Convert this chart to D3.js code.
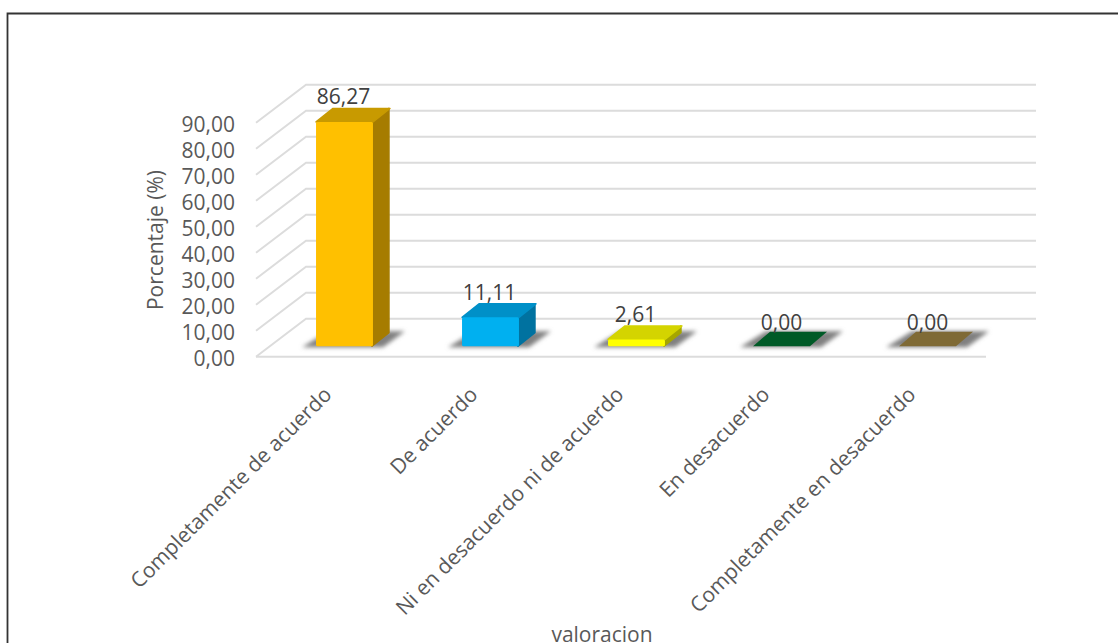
<!DOCTYPE html>
<html><head><meta charset="utf-8">
<script src="https://cdn.jsdelivr.net/npm/d3@7"></script>
<style>html,body{margin:0;padding:0;background:#fff}svg{display:block}text{font-family:"Open Sans",sans-serif}</style>
</head><body><svg id="c" width="1118" height="643"></svg>
<script>
const categories=["Completamente de acuerdo","De acuerdo","Ni en desacuerdo ni de acuerdo","En desacuerdo","Completamente en desacuerdo"];
const values=[86.27,11.11,2.61,0,0];
const valueLabels=["86,27","11,11","2,61","0,00","0,00"];
const tickValues=[0,10,20,30,40,50,60,70,80,90];
const front=["#ffc000","#00b0f0","#ffff00","#005a27","#7f6a35"];
const topc=["#c89a00","#0090c8","#d4d400","#005a27","#7f6a35"];
const side=["#a67c00","#0072a0","#a6a600","#005a27","#7f6a35"];

const svg=d3.select("#c");
const W=1118,H=643;
const y=d3.scaleLinear().domain([0,90]).range([356.7,122.7]);
const x=d3.scaleBand().domain(categories).range([256,986]).paddingInner(0.61).paddingOuter(0.305);
const xBar=x.copy().range([271.5,1001.5]);
const wallDX=50,wallDY=-38;
const barDX=17,barDY=-13.5,barLift=-10.5;
const fs=21;

const defs=svg.append("defs");
defs.append("filter").attr("id","blur").attr("x","-30%").attr("y","-100%").attr("width","160%").attr("height","300%")
  .append("feGaussianBlur").attr("stdDeviation",2.2);
defs.append("filter").attr("id","soft").append("feGaussianBlur").attr("stdDeviation",0.4);

svg.append("path").attr("d",`M7.5,${H+2}V13.5H${W+2}`).attr("fill","none").attr("stroke","#333").attr("stroke-width",1.8);

const g=svg.append("g").attr("fill","none").attr("stroke","#dcdcdc").attr("stroke-width",2);
g.selectAll("path.grid").data(tickValues).join("path").attr("class","grid")
 .attr("d",v=>`M${x.range()[0]},${y(v)}l${wallDX},${wallDY}H${x.range()[1]+wallDX}`);
g.append("path").attr("d",`M${x.range()[0]},${y(0)}H${x.range()[1]}`);

const rows=categories.map((c,i)=>({c,i,v:values[i]}));
const bars=svg.append("g").selectAll("g").data(rows).join("g");
const bw=xBar.bandwidth();
const X=d=>xBar(d.c), B=y(0)+barLift, T=d=>B-(y(0)-y(d.v));
bars.append("path").attr("filter","url(#blur)").attr("fill","#808080")
 .attr("d",d=>`M${X(d)-14},${B+1}H${X(d)+bw+10}L${X(d)+bw+32},${B-15}H${X(d)+12}z`);
bars.each(function(d){
  const s=d3.select(this),l=X(d),t=T(d),h=B-t;
  const round=p=>p.attr("stroke-linejoin","round").attr("stroke-width",1.5).attr("stroke",function(){return d3.select(this).attr("fill")});
  if(d.v>0){
    s.append("path").attr("fill",side[d.i]).attr("d",`M${l+bw-1},${t}l${barDX},${barDY}V${B+barDY}l-${barDX},${-barDY}z`).call(round);
    s.append("path").attr("fill",topc[d.i]).attr("d",`M${l},${t}l${barDX},${barDY}h${bw}l-${barDX},${-barDY}z`).call(round);
    s.append("rect").attr("fill",front[d.i]).attr("filter","url(#soft)").attr("x",l).attr("y",t).attr("width",bw).attr("height",h).attr("rx",1.5);
  } else {
    s.append("path").attr("fill",front[d.i]).attr("d",`M${l-1},${B}l${barDX},${barDY-1}h${bw}l-${barDX},${-barDY+1}z`);
  }
});
svg.append("g").selectAll("text").data(rows).join("text")
 .attr("x",d=>X(d)+bw/2-1).attr("y",d=>T(d)+barDY-(d.v>0?4:3)).attr("text-anchor","middle")
 .attr("font-size",fs).attr("fill","#404040").text(d=>valueLabels[d.i]);

svg.append("g").selectAll("text").data(tickValues).join("text")
 .attr("x",235).attr("y",v=>y(v)+9).attr("text-anchor","end").attr("font-size",fs).attr("fill","#595959")
 .text(v=>v.toFixed(2).replace(".",","));
svg.append("text").attr("transform","translate(163,240) rotate(-90)").attr("text-anchor","middle").attr("font-size",fs).attr("fill","#595959").text("Porcentaje (%)");
svg.append("g").selectAll("text").data(categories).join("text")
 .attr("transform",c=>`translate(${x(c)+bw/2-5},387) rotate(-45)`).attr("text-anchor","end").attr("dy","0.6em")
 .attr("font-size",fs).attr("fill","#595959").text(c=>c);
svg.append("text").attr("x",602).attr("y",642).attr("text-anchor","middle").attr("font-size",fs).attr("fill","#595959").text("valoracion");
</script></body></html>
